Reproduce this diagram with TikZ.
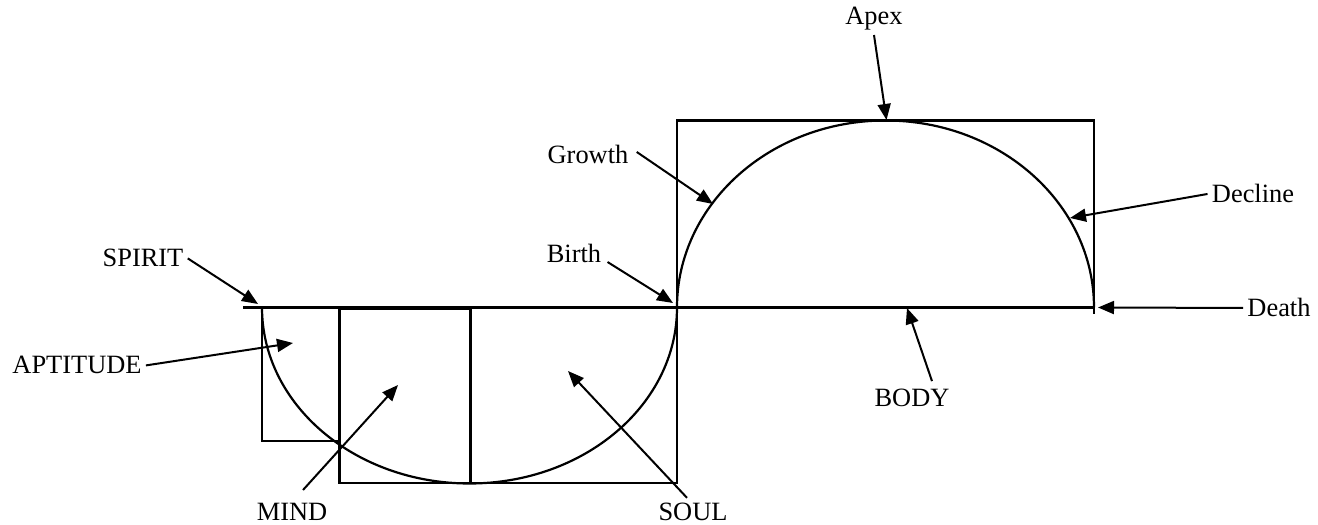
\documentclass[tikz,border=0pt]{standalone}
\usepackage{fontspec}
\setmainfont{Liberation Serif}
\usetikzlibrary{arrows.meta}
\begin{document}
\begin{tikzpicture}[x=0.5pt,y=0.5pt,
  outline/.style={line width=1.1pt},
  axisline/.style={line width=1.5pt},
  arr/.style={line width=1pt,-{Triangle[length=8pt,width=6.5pt]}},
  lbl/.style={font=\fontsize{13.2pt}{16pt}\selectfont,inner sep=2pt,anchor=base}]
\path[use as bounding box] (0,0) rectangle (1318,525);
% axis line
\draw[outline] (243,217.5) -- (262,217.5);
\draw[axisline] (262,217.5) -- (1095,217.5);
% upper rectangle and half ellipse
\draw[outline] (677,217.5) -- (677,404.5) -- (1094,404.5) -- (1094,211);
\draw[outline] (677,217.5) arc[start angle=180,end angle=0,x radius=104.25pt,y radius=93.5pt];
% lower boxes and half ellipse
\draw[outline] (262,217.5) -- (262,84) -- (339.5,84);
\draw[outline] (339.5,216) rectangle (470.5,42);
\draw[outline] (470.5,42) -- (677,42) -- (677,217.5);
\draw[outline] (262,217.5) arc[start angle=180,end angle=360,x radius=103.75pt,y radius=88pt];
% tips
\coordinate (tApex) at (886.5,405);
\coordinate (tGrowth) at (713,321);
\coordinate (tBirth) at (673,222);
\coordinate (tDecline) at (1070,307);
\coordinate (tDeath) at (1098,217.5);
\coordinate (tBody) at (907,217);
\coordinate (tSoul) at (568,154);
\coordinate (tMind) at (398,140);
\coordinate (tApt) at (293,182);
\coordinate (tSpirit) at (258,221);
% labels
\node[lbl] (apex) at (874,500) {Apex};
\node[lbl] (growth) at (588,361) {Growth};
\node[lbl] (birth) at (574,262) {Birth};
\node[lbl] (spirit) at (143,258) {SPIRIT};
\node[lbl] (aptitude) at (77,151) {APTITUDE};
\node[lbl] (mind) at (292,4.3) {MIND};
\node[lbl] (soul) at (693,4.3) {SOUL};
\node[lbl] (body) at (912,118) {BODY};
\node[lbl] (death) at (1279,208) {Death};
\node[lbl] (decline) at (1253,322) {Decline};
% arrows
\draw[arr] (apex.south) -- (tApex);
\draw[arr] ([shift={(4,3)}]growth.east) -- (tGrowth);
\draw[arr] ([shift={(2,1)}]birth.base east) -- (tBirth);
\draw[arr] (spirit.east) -- (tSpirit);
\draw[arr] (aptitude.east) -- (tApt);
\draw[arr] ([shift={(11,9)}]mind.north) -- (tMind);
\draw[arr] ([shift={(-6,1)}]soul.north) -- (tSoul);
\draw[arr] ([shift={(20,4)}]body.north) -- (tBody);
\draw[arr] (death.west) -- (tDeath);
\draw[arr] (decline.west) -- (tDecline);
\end{tikzpicture}
\end{document}
